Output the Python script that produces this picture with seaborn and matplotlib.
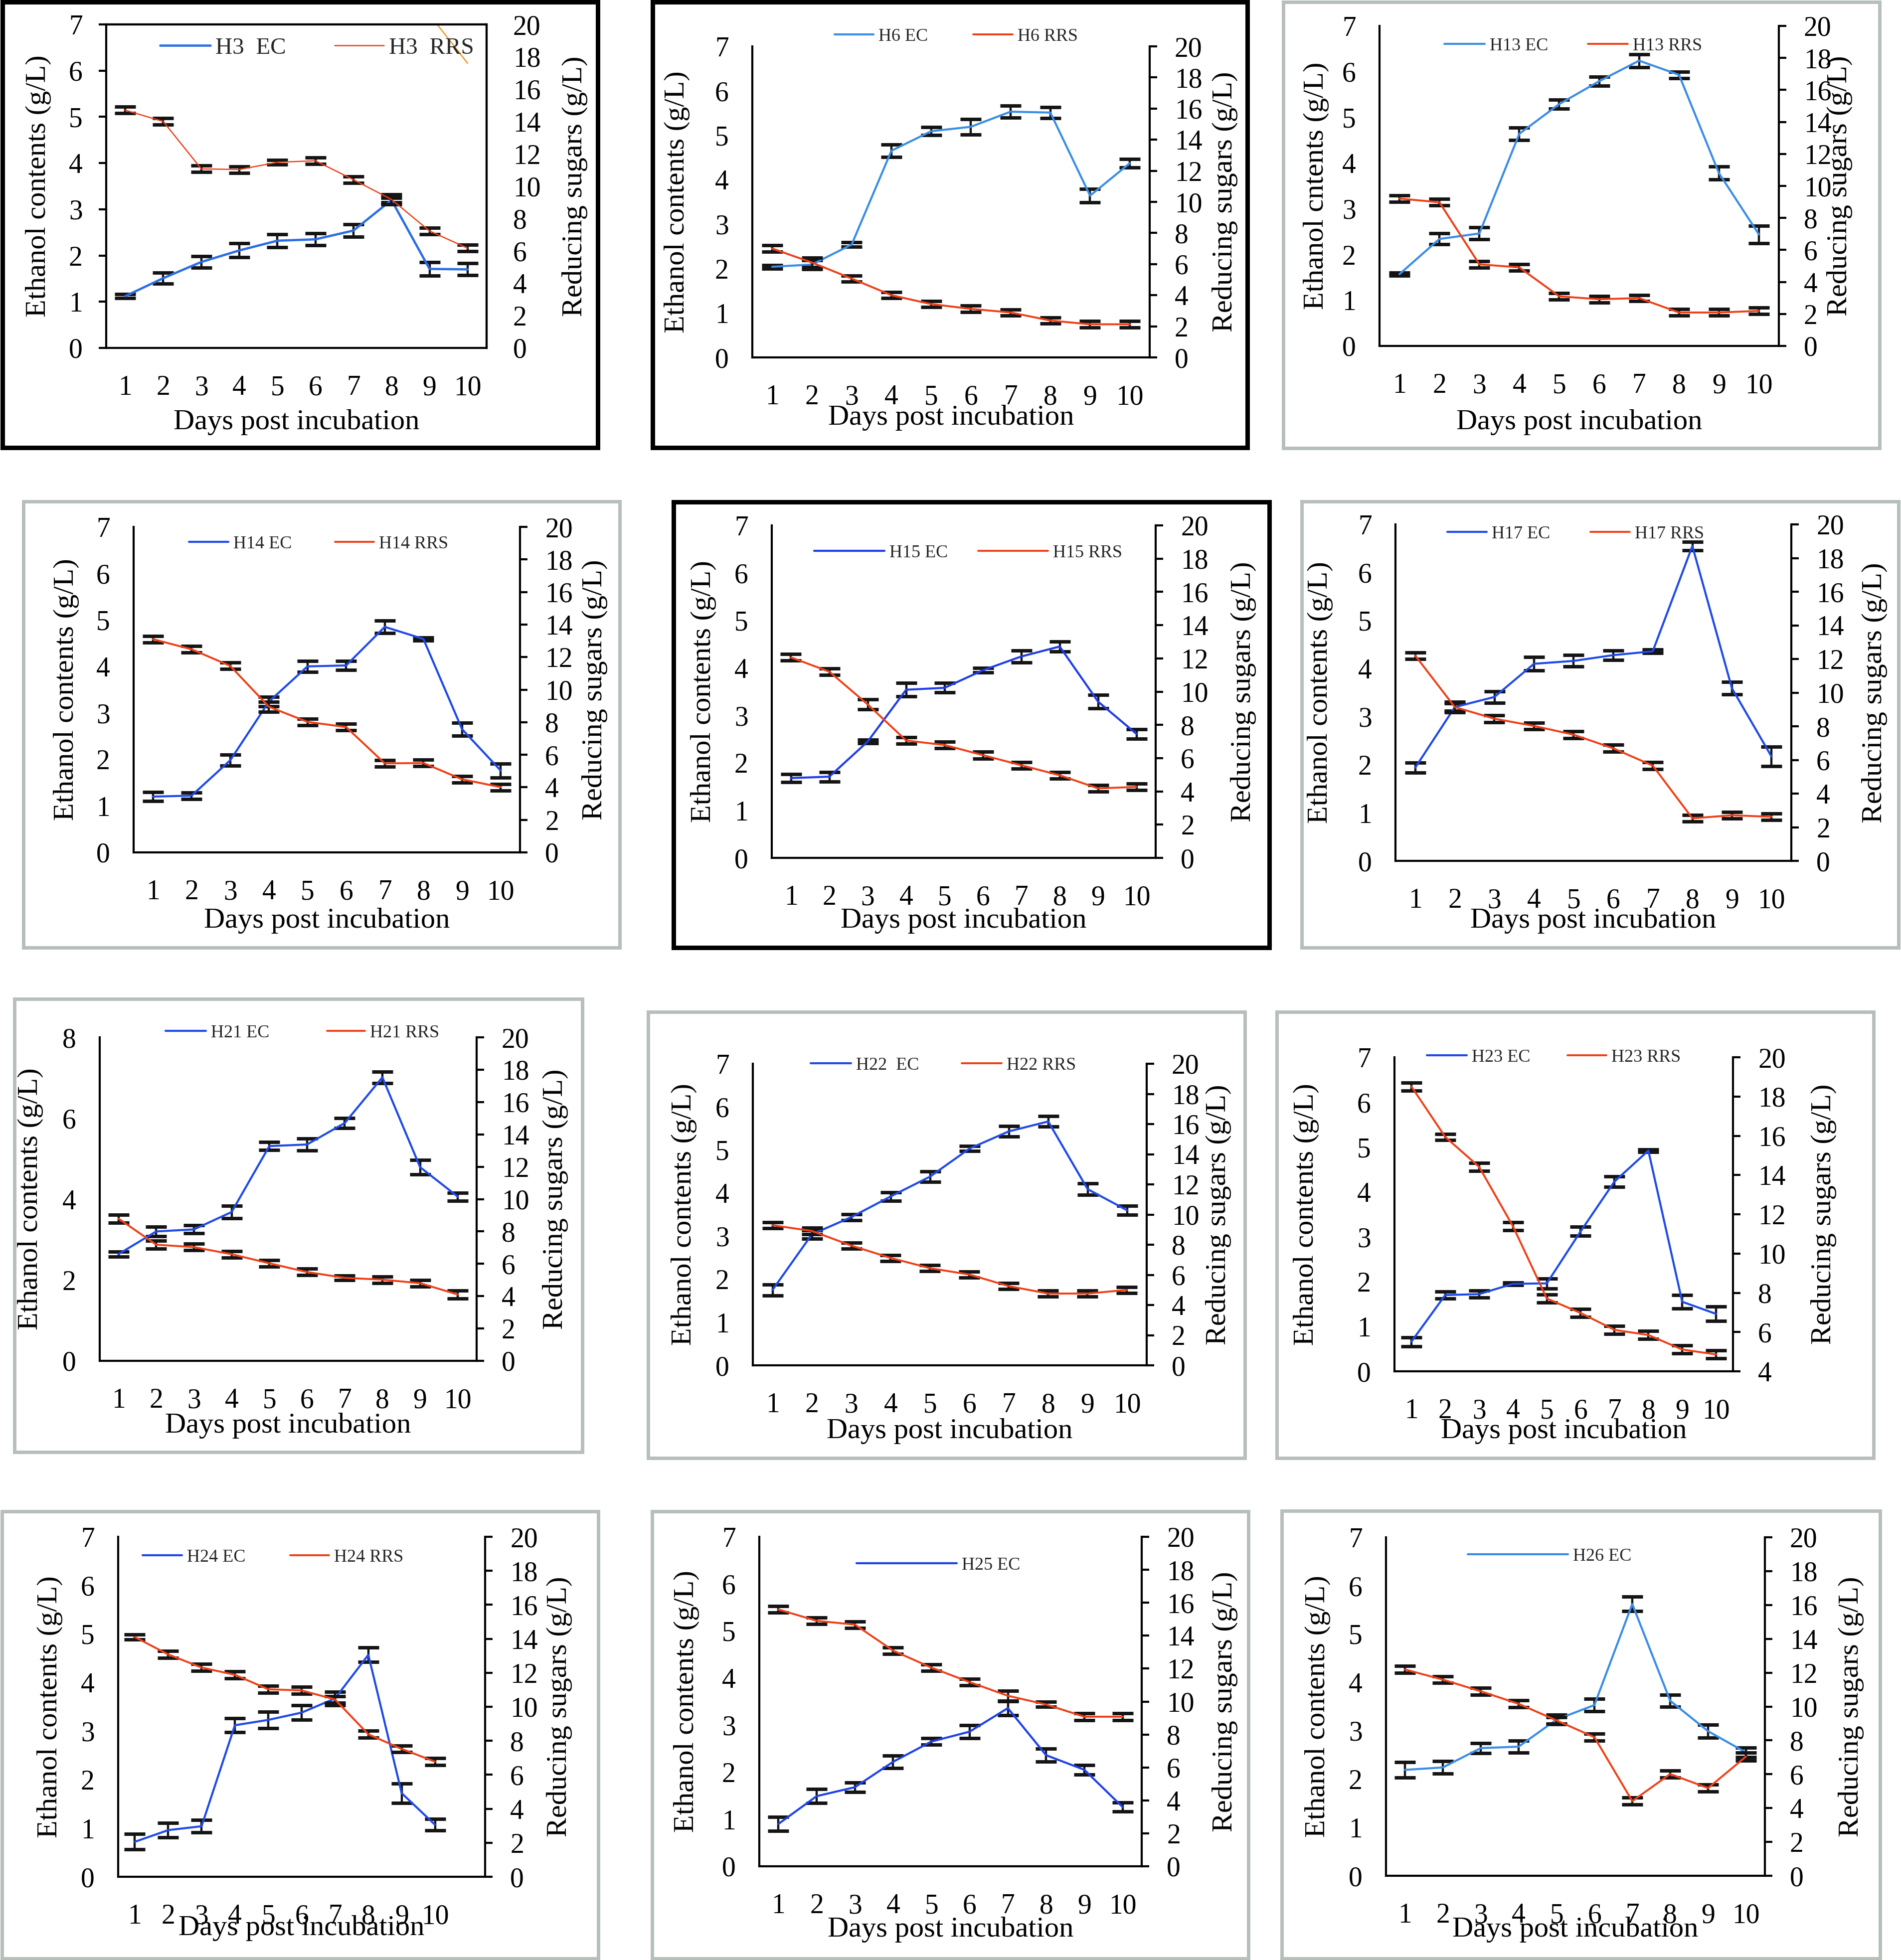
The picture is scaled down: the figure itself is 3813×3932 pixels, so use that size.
import matplotlib
matplotlib.use('Agg')
import matplotlib.pyplot as plt
from matplotlib.lines import Line2D
from matplotlib.patches import Rectangle
import seaborn as sns

# ---- data ----
days = list(range(1, 11))

h3_ec = [1.12, 1.51, 1.86, 2.11, 2.32, 2.35, 2.54, 3.20, 1.71, 1.70]
h3_ec_err = [0.04, 0.12, 0.12, 0.15, 0.14, 0.13, 0.14, 0.05, 0.15, 0.13]
h3_rrs = [14.7, 14.0, 11.07, 11.03, 11.48, 11.57, 10.4, 9.18, 7.23, 6.17]
h3_rrs_err = [0.2, 0.2, 0.2, 0.2, 0.15, 0.2, 0.2, 0.3, 0.2, 0.2]
h3_stray_x = [9, 10]
h3_stray_y = [20.6, 17.6]

h6_ec = [2.04, 2.09, 2.54, 4.65, 5.09, 5.19, 5.53, 5.51, 3.64, 4.37]
h6_ec_err = [0.04, 0.1, 0.05, 0.14, 0.09, 0.17, 0.13, 0.12, 0.15, 0.1]
h6_rrs = [7.0, 6.1, 5.07, 4.0, 3.43, 3.12, 2.89, 2.37, 2.13, 2.13]
h6_rrs_err = [0.2, 0.3, 0.2, 0.2, 0.2, 0.2, 0.2, 0.2, 0.2, 0.2]

h13_ec = [1.57, 2.34, 2.46, 4.64, 5.29, 5.79, 6.24, 5.93, 3.78, 2.44]
h13_ec_err = [0.03, 0.12, 0.13, 0.14, 0.1, 0.1, 0.14, 0.07, 0.14, 0.19]
h13_rrs = [9.21, 8.98, 5.10, 4.91, 3.10, 2.92, 2.99, 2.09, 2.09, 2.19]
h13_rrs_err = [0.2, 0.2, 0.2, 0.2, 0.2, 0.2, 0.2, 0.2, 0.2, 0.2]

h14_ec = [1.20, 1.22, 1.98, 3.24, 4.00, 4.02, 4.85, 4.59, 2.65, 1.76]
h14_ec_err = [0.1, 0.07, 0.12, 0.1, 0.12, 0.1, 0.13, 0.03, 0.14, 0.15]
h14_rrs = [13.1, 12.48, 11.46, 8.95, 8.02, 7.70, 5.47, 5.49, 4.49, 4.01]
h14_rrs_err = [0.2, 0.2, 0.2, 0.3, 0.2, 0.2, 0.2, 0.2, 0.2, 0.2]

h15_ec = [1.68, 1.71, 2.45, 3.54, 3.58, 3.95, 4.24, 4.45, 3.29, 2.61]
h15_ec_err = [0.08, 0.1, 0.04, 0.14, 0.1, 0.05, 0.13, 0.1, 0.14, 0.1]
h15_rrs = [12.06, 11.2, 9.23, 7.06, 6.79, 6.18, 5.57, 4.97, 4.18, 4.27]
h15_rrs_err = [0.2, 0.2, 0.3, 0.2, 0.2, 0.2, 0.2, 0.2, 0.2, 0.2]

h17_ec = [1.94, 3.20, 3.41, 4.10, 4.16, 4.28, 4.36, 6.55, 3.59, 2.17]
h17_ec_err = [0.1, 0.08, 0.12, 0.14, 0.12, 0.1, 0.04, 0.09, 0.13, 0.2]
h17_rrs = [12.2, 9.14, 8.45, 8.02, 7.5, 6.69, 5.66, 2.53, 2.71, 2.62]
h17_rrs_err = [0.2, 0.3, 0.2, 0.2, 0.2, 0.2, 0.2, 0.2, 0.2, 0.2]

h21_ec = [2.64, 3.20, 3.25, 3.68, 5.31, 5.35, 5.88, 7.01, 4.79, 4.06]
h21_ec_err = [0.06, 0.12, 0.1, 0.15, 0.1, 0.15, 0.12, 0.14, 0.18, 0.1]
h21_rrs = [8.79, 7.18, 7.03, 6.59, 6.03, 5.49, 5.13, 5.02, 4.80, 4.10]
h21_rrs_err = [0.25, 0.25, 0.2, 0.2, 0.2, 0.2, 0.15, 0.2, 0.2, 0.25]

h22_ec = [1.75, 3.04, 3.44, 3.92, 4.38, 5.03, 5.43, 5.66, 4.09, 3.60]
h22_ec_err = [0.13, 0.1, 0.07, 0.1, 0.12, 0.06, 0.12, 0.12, 0.13, 0.1]
h22_rrs = [9.29, 8.91, 7.94, 7.12, 6.44, 6.02, 5.25, 4.76, 4.76, 5.0]
h22_rrs_err = [0.2, 0.2, 0.2, 0.2, 0.2, 0.2, 0.2, 0.2, 0.2, 0.2]

h23_ec = [0.66, 1.70, 1.72, 1.95, 1.96, 3.12, 4.23, 4.92, 1.55, 1.28]
h23_ec_err = [0.1, 0.08, 0.08, 0.03, 0.11, 0.1, 0.12, 0.03, 0.15, 0.16]
h23_rrs = [18.51, 15.94, 14.42, 11.39, 7.71, 6.97, 6.11, 5.85, 5.11, 4.86]
h23_rrs_err = [0.2, 0.15, 0.2, 0.2, 0.2, 0.2, 0.2, 0.2, 0.2, 0.2]

h24_ec = [0.72, 0.96, 1.04, 3.12, 3.23, 3.38, 3.67, 4.57, 1.72, 1.07]
h24_ec_err = [0.16, 0.15, 0.13, 0.14, 0.17, 0.15, 0.14, 0.15, 0.2, 0.12]
h24_rrs = [14.1, 13.08, 12.31, 11.88, 11.03, 10.96, 10.43, 8.38, 7.52, 6.77]
h24_rrs_err = [0.15, 0.2, 0.2, 0.2, 0.2, 0.2, 0.2, 0.2, 0.2, 0.2]

h25_ec = [0.90, 1.49, 1.68, 2.22, 2.65, 2.86, 3.36, 2.36, 2.05, 1.26]
h25_ec_err = [0.15, 0.15, 0.1, 0.13, 0.07, 0.14, 0.15, 0.14, 0.1, 0.1]
h25_rrs = [15.59, 14.9, 14.67, 13.09, 12.06, 11.18, 10.35, 9.82, 9.08, 9.08]
h25_rrs_err = [0.2, 0.2, 0.2, 0.2, 0.2, 0.2, 0.3, 0.15, 0.2, 0.2]

h26_ec = [2.19, 2.24, 2.64, 2.67, 3.23, 3.53, 5.62, 3.62, 2.99, 2.55]
h26_ec_err = [0.16, 0.13, 0.1, 0.12, 0.1, 0.13, 0.15, 0.12, 0.13, 0.1]
h26_rrs = [12.19, 11.59, 10.9, 10.16, 9.18, 8.19, 4.41, 6.01, 5.18, 7.04]
h26_rrs_err = [0.2, 0.2, 0.2, 0.2, 0.2, 0.2, 0.2, 0.2, 0.2, 0.25]

# ---- colours ----
RED = '#ef3f17'
BLUE_D = '#1f4ae8'
BLUE_L = '#3a8de6'
BAR = '#141414'
GRAY = '#b7bfbb'

sns.set_theme(style='white')
plt.rcParams['font.family'] = ['Liberation Serif', 'DejaVu Serif']

W, H = 3813, 3932
DPI = 100
PT = 72 / DPI  # points per pixel

fig = plt.figure(figsize=(W / DPI, H / DPI), dpi=DPI, facecolor='white')

# layout in pixels: frame box, axes box (left, top, right, bottom), label offsets, legend spots
layout = {
    'H3': dict(frame=(0, 0, 1203, 902), fcol='black', axes=(213, 49, 976, 698), box=True,
               yl=136, yr=177, xl=149, ec_col='#2a6de6', rrs_lw=1.8, ec_lw=3.3,
               leg_ec=(321, 422, 96), leg_rrs=(671, 770, 96), leg_fs=34,
               lab_ec='H3  EC', lab_rrs='H3  RRS'),
    'H6': dict(frame=(1304, 0, 2506, 902), fcol='black', axes=(1509, 93, 2306, 717),
               yl=151, yr=151, xl=121, ec_col=BLUE_L,
               leg_ec=(1674, 1752, 73), leg_rrs=(1952, 2031, 73),
               lab_ec='H6 EC', lab_rrs='H6 RRS'),
    'H13': dict(frame=(2570, 0, 3773, 902), fcol=GRAY, axes=(2767, 52, 3568, 694),
                yl=127, yr=122, xl=153, ec_col=BLUE_L, ylabel='Ethanol cntents (g/L)',
                leg_ec=(2897, 2978, 92), leg_rrs=(3185, 3265, 92),
                lab_ec='H13 EC', lab_rrs='H13 RRS'),
    'H14': dict(frame=(43, 1003, 1246, 1905), fcol=GRAY, axes=(268, 1057, 1043, 1710),
                yl=135, yr=150, xl=137, ec_col=BLUE_D,
                leg_ec=(379, 458, 1091), leg_rrs=(672, 750, 1091),
                lab_ec='H14 EC', lab_rrs='H14 RRS'),
    'H15': dict(frame=(1346, 1003, 2550, 1905), fcol='black', axes=(1548, 1054, 2318, 1721),
                yl=137, yr=176, xl=126, ec_col='#1f3de8',
                leg_ec=(1633, 1774, 1109), leg_rrs=(1962, 2102, 1109),
                lab_ec='H15 EC', lab_rrs='H15 RRS'),
    'H17': dict(frame=(2607, 1003, 3811, 1905), fcol=GRAY, axes=(2799, 1052, 3593, 1727),
                yl=151, yr=167, xl=120, ec_col=BLUE_D,
                leg_ec=(2903, 2982, 1071), leg_rrs=(3190, 3269, 1071),
                lab_ec='H17 EC', lab_rrs='H17 RRS'),
    'H21': dict(frame=(25, 2000, 1171, 2916), fcol=GRAY, axes=(200, 2081, 956, 2730),
                yl=139, yr=158, xl=130, ec_col=BLUE_D, ymax=8, ystep=2,
                leg_ec=(332, 413, 2072), leg_rrs=(656, 732, 2072),
                lab_ec='H21 EC', lab_rrs='H21 RRS'),
    'H22': dict(frame=(1296, 2026, 2500, 2928), fcol=GRAY, axes=(1510, 2134, 2300, 2739),
                yl=138, yr=144, xl=132, ec_col=BLUE_D,
                leg_ec=(1626, 1707, 2137), leg_rrs=(1929, 2009, 2137),
                lab_ec='H22  EC', lab_rrs='H22 RRS'),
    'H23': dict(frame=(2557, 2026, 3761, 2928), fcol=GRAY, axes=(2797, 2121, 3476, 2751),
                yl=177, yr=182, xl=120, ec_col=BLUE_D, rmin=4,
                leg_ec=(2862, 2942, 2121), leg_rrs=(3144, 3222, 2121),
                lab_ec='H23 EC', lab_rrs='H23 RRS'),
    'H24': dict(frame=(0, 3028, 1203, 3932), fcol=GRAY, axes=(237, 3083, 973, 3765),
                yl=137, yr=149, xl=103, ec_col=BLUE_D, xhi=11.5,
                leg_ec=(286, 365, 3124), leg_rrs=(582, 660, 3124),
                lab_ec='H24 EC', lab_rrs='H24 RRS'),
    'H25': dict(frame=(1304, 3028, 2507, 3932), fcol=GRAY, axes=(1523, 3083, 2290, 3744),
                yl=146, yr=167, xl=127, ec_col='#1f42e8',
                leg_ec=(1718, 1919, 3140), leg_rrs=None,
                lab_ec='H25 EC', lab_rrs=None),
    'H26': dict(frame=(2567, 3027, 3774, 3932), fcol=GRAY, axes=(2780, 3084, 3540, 3763),
                yl=137, yr=173, xl=108, ec_col=BLUE_L,
                leg_ec=(2944, 3145, 3122), leg_rrs=None,
                lab_ec='H26 EC', lab_rrs=None),
}

series = {
    'H3': (h3_ec, h3_ec_err, h3_rrs, h3_rrs_err),
    'H6': (h6_ec, h6_ec_err, h6_rrs, h6_rrs_err),
    'H13': (h13_ec, h13_ec_err, h13_rrs, h13_rrs_err),
    'H14': (h14_ec, h14_ec_err, h14_rrs, h14_rrs_err),
    'H15': (h15_ec, h15_ec_err, h15_rrs, h15_rrs_err),
    'H17': (h17_ec, h17_ec_err, h17_rrs, h17_rrs_err),
    'H21': (h21_ec, h21_ec_err, h21_rrs, h21_rrs_err),
    'H22': (h22_ec, h22_ec_err, h22_rrs, h22_rrs_err),
    'H23': (h23_ec, h23_ec_err, h23_rrs, h23_rrs_err),
    'H24': (h24_ec, h24_ec_err, h24_rrs, h24_rrs_err),
    'H25': (h25_ec, h25_ec_err, h25_rrs, h25_rrs_err),
    'H26': (h26_ec, h26_ec_err, h26_rrs, h26_rrs_err),
}

TICK_FS = 40
LABEL_FS = 42
ERR_KW = dict(fmt='none', ecolor=BAR, elinewidth=3.2, capsize=15, capthick=5, zorder=2)


def put_legend(axis, label, color, lw, spot, fs):
    x0, x1, y = spot
    fs_px = fs / PT
    axis.legend(handles=[Line2D([], [], color=color, lw=lw)], labels=[label],
                loc='center left', bbox_to_anchor=(x0 / W, 1 - y / H),
                bbox_transform=fig.transFigure, frameon=False, fontsize=fs,
                handlelength=(x1 - x0) / fs_px, handletextpad=10 / fs_px,
                borderpad=0, borderaxespad=0)


for name, (ec, ec_err, rrs, rrs_err) in series.items():
    lay = layout[name]

    # panel frame
    fx0, fy0, fx1, fy1 = lay['frame']
    flw = 9 if lay['fcol'] == 'black' else 7
    fig.add_artist(Rectangle(((fx0 + flw / 2) / W, 1 - (fy1 - flw / 2) / H),
                             (fx1 - fx0 - flw) / W, (fy1 - fy0 - flw) / H,
                             transform=fig.transFigure, fill=False,
                             edgecolor=lay['fcol'], linewidth=flw * PT))

    l, t, r, b = lay['axes']
    aw, ah = r - l, b - t
    ax = fig.add_axes([l / W, 1 - b / H, aw / W, ah / H])
    ax2 = ax.twinx()

    ec_lw = lay.get('ec_lw', 3.0)
    rrs_lw = lay.get('rrs_lw', 2.8)

    ax.errorbar(days, ec, yerr=ec_err, **ERR_KW)
    sns.lineplot(x=days, y=ec, ax=ax, color=lay['ec_col'], linewidth=ec_lw, zorder=3)

    ax2.errorbar(days, rrs, yerr=rrs_err, **ERR_KW)
    sns.lineplot(x=days, y=rrs, ax=ax2, color=RED, linewidth=rrs_lw, zorder=3)

    if name == 'H3':
        sns.lineplot(x=h3_stray_x, y=h3_stray_y, ax=ax2, color='#f29424', linewidth=1.8)

    ymax = lay.get('ymax', 7)
    ystep = lay.get('ystep', 1)
    rmin = lay.get('rmin', 0)
    ax.set_xlim(0.5, lay.get('xhi', 10.5))
    ax.set_ylim(0, ymax)
    ax.set_yticks(list(range(0, ymax + 1, ystep)))
    ax2.set_ylim(rmin, 20)
    ax2.set_yticks(list(range(rmin, 21, 2)))
    ax.set_xticks(days)
    ax.set_xticklabels([str(d) for d in days])

    box = lay.get('box', False)
    for sp in ['left', 'bottom', 'top', 'right']:
        ax.spines[sp].set_color('black')
        ax.spines[sp].set_linewidth(3)
        ax2.spines[sp].set_color('black')
        ax2.spines[sp].set_linewidth(3)
    ax.spines['top'].set_visible(box)
    ax.spines['right'].set_visible(box)
    ax2.spines['top'].set_visible(box)
    ax2.spines['left'].set_visible(False)
    ax2.spines['bottom'].set_visible(False)

    ax.tick_params(axis='x', length=0, pad=39, labelsize=TICK_FS, colors='black')
    if box:
        ax.tick_params(axis='y', length=11, width=3, direction='out', pad=23,
                       labelsize=TICK_FS, colors='black', left=True)
        ax2.tick_params(axis='y', length=0, pad=38, labelsize=TICK_FS, colors='black')
    else:
        ax.tick_params(axis='y', length=0, pad=34, labelsize=TICK_FS, colors='black')
        ax2.tick_params(axis='y', length=11, width=3, direction='out', pad=25,
                        labelsize=TICK_FS, colors='black', right=True)

    ax.set_xlabel('Days post incubation', fontsize=LABEL_FS, color='black', va='center')
    ax.xaxis.set_label_coords(0.5, -lay['xl'] / ah)
    ax.set_ylabel(lay.get('ylabel', 'Ethanol contents (g/L)'), fontsize=LABEL_FS,
                  color='black', va='center', rotation=90)
    ax.yaxis.set_label_coords(-lay['yl'] / aw, 0.5)
    ax2.set_ylabel('Reducing sugars (g/L)', fontsize=LABEL_FS, color='black',
                   va='center', rotation=90)
    ax2.yaxis.set_label_coords(1 + lay['yr'] / aw, 0.5)

    fs = lay.get('leg_fs', 26)
    put_legend(ax, lay['lab_ec'], lay['ec_col'], ec_lw, lay['leg_ec'], fs)
    if lay['leg_rrs'] is not None:
        put_legend(ax2, lay['lab_rrs'], RED, rrs_lw, lay['leg_rrs'], fs)

fig.savefig('out.png', dpi=DPI, facecolor='white')
